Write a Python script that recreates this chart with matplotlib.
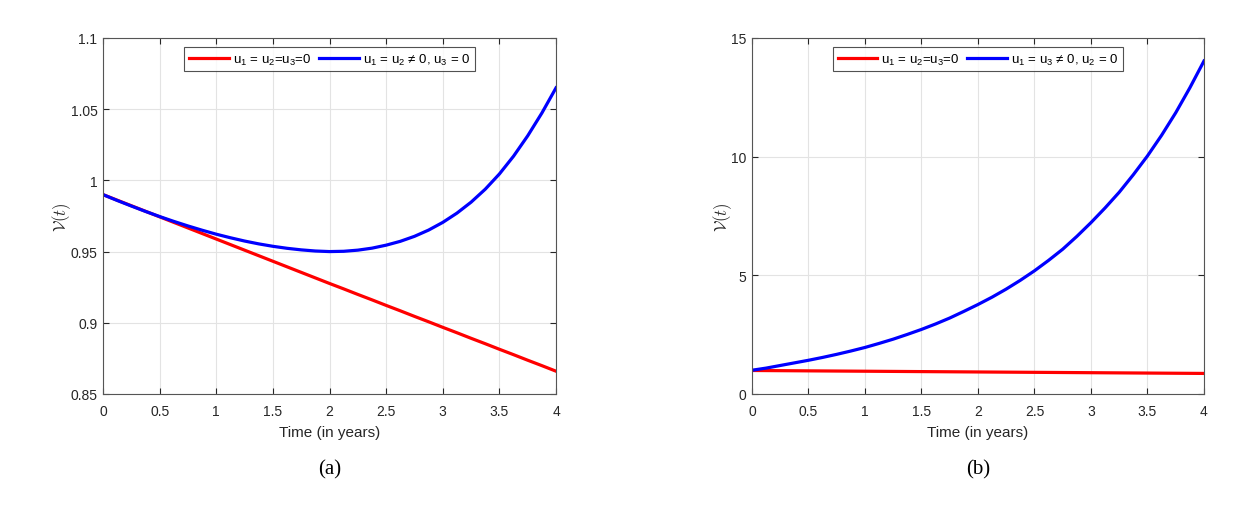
import matplotlib.pyplot as plt
from matplotlib.font_manager import FontProperties

plt.rcParams['font.family'] = ['Liberation Sans', 'DejaVu Sans']
plt.rcParams['mathtext.fontset'] = 'custom'
plt.rcParams['mathtext.rm'] = 'Liberation Sans'
plt.rcParams['mathtext.it'] = 'Liberation Sans:italic'
plt.rcParams['mathtext.sf'] = 'Liberation Sans'

t = [0, 0.125, 0.25, 0.375, 0.5, 0.625, 0.75, 0.875, 1.0, 1.125, 1.25, 1.375,
     1.5, 1.625, 1.75, 1.875, 2.0, 2.125, 2.25, 2.375, 2.5, 2.625, 2.75, 2.875,
     3.0, 3.125, 3.25, 3.375, 3.5, 3.625, 3.75, 3.875, 4.0]

# u1 = u2 = u3 = 0 (same curve in both panels)
v_none = [0.9900, 0.9861, 0.9822, 0.9783, 0.9744, 0.9705, 0.9666, 0.9627,
          0.9588, 0.9549, 0.9510, 0.9471, 0.9432, 0.9393, 0.9354, 0.9315,
          0.9276, 0.9238, 0.9199, 0.9161, 0.9122, 0.9084, 0.9045, 0.9007,
          0.8968, 0.8930, 0.8891, 0.8853, 0.8814, 0.8776, 0.8737, 0.8699, 0.8660]
# panel (a): u1 = u2 != 0, u3 = 0
v_a = [0.9900, 0.9859, 0.9820, 0.9782, 0.9746, 0.9712, 0.9680, 0.9650,
       0.9622, 0.9597, 0.9574, 0.9554, 0.9537, 0.9523, 0.9512, 0.9504,
       0.9500, 0.9502, 0.9510, 0.9524, 0.9545, 0.9572, 0.9607, 0.9651,
       0.9705, 0.9770, 0.9847, 0.9938, 1.0045, 1.0170, 1.0313, 1.0473, 1.0650]
# panel (b): u1 = u3 != 0, u2 = 0
v_b = [1.0, 1.09, 1.2, 1.31, 1.42, 1.54, 1.67, 1.81, 1.96, 2.13, 2.31, 2.51,
       2.72, 2.95, 3.2, 3.48, 3.77, 4.08, 4.42, 4.79, 5.19, 5.63, 6.1, 6.64,
       7.22, 7.84, 8.5, 9.24, 10.03, 10.9, 11.85, 12.9, 14.03]

xticks = [0, 0.5, 1, 1.5, 2, 2.5, 3, 3.5, 4]
xticklabels = ['0', '0.5', '1', '1.5', '2', '2.5', '3', '3.5', '4']

fig = plt.figure(figsize=(12.47, 5.06), dpi=100)
ax1 = fig.add_axes([0.0826, 0.2194, 0.3633, 0.7036])
ax2 = fig.add_axes([0.6030, 0.2194, 0.3625, 0.7036])

panels = [
    (ax1, v_a, r'u$_1$ = u$_2$ ≠ 0, u$_3$ = 0', (0.85, 1.1),
     [0.85, 0.9, 0.95, 1, 1.05, 1.1], ['0.85', '0.9', '0.95', '1', '1.05', '1.1'], '(a)'),
    (ax2, v_b, r'u$_1$ = u$_3$ ≠ 0, u$_2$ = 0', (0, 15),
     [0, 5, 10, 15], ['0', '5', '10', '15'], '(b)'),
]

for ax, vb, lab, ylim, yt, ytl, cap in panels:
    ax.plot(t, v_none, color='#ff0000', lw=2.3, label=r'u$_1$ = u$_2$=u$_3$=0')
    ax.plot(t, vb, color='#0000ff', lw=2.3, label=lab)
    ax.set_xlim(0, 4)
    ax.set_ylim(*ylim)
    ax.set_xticks(xticks)
    ax.set_xticklabels(xticklabels)
    ax.set_yticks(yt)
    ax.set_yticklabels(ytl)
    ax.grid(True, color='#e3e3e3', lw=0.8)
    ax.set_axisbelow(True)
    ax.tick_params(direction='in', top=True, right=True, labelsize=10,
                   color='#262626', labelcolor='#262626', length=4)
    ax.tick_params(axis='x', pad=7)
    ax.tick_params(axis='y', pad=4)
    for s in ax.spines.values():
        s.set_color('#555555')
        s.set_linewidth(0.8)
    ax.set_xlabel('Time (in years)', fontsize=11, color='#262626', labelpad=5)
    ax.set_ylabel(r'$\mathcal{V}(t)$', fontsize=12, color='#262626', labelpad=-2,
                  math_fontfamily='cm')
    leg = ax.legend(loc='upper center', ncol=2,
                    prop=FontProperties(family='Liberation Sans', size=9.5),
                    frameon=True, fancybox=False, edgecolor='#262626',
                    handlelength=3.0, columnspacing=0.6, handletextpad=0.3,
                    borderpad=0.35, bbox_to_anchor=(0.5, 0.993))
    leg.get_frame().set_linewidth(0.8)
    ax.text(0.5, -0.21, cap, transform=ax.transAxes, ha='center', va='center',
            fontsize=15, family='Liberation Serif')

fig.savefig('out.png', dpi=100)
